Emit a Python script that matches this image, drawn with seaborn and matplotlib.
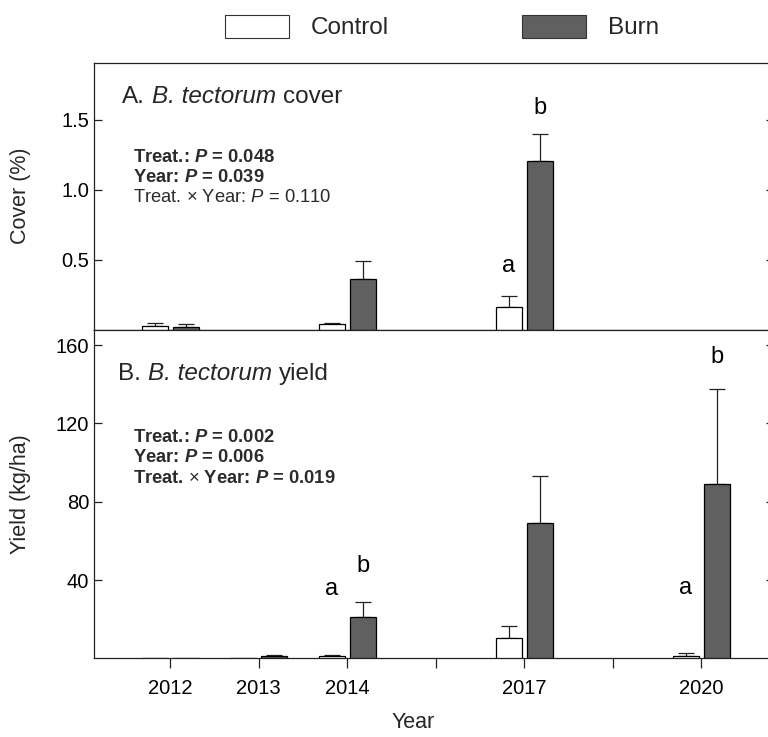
import numpy as np
import pandas as pd
import matplotlib
matplotlib.use("Agg")
import matplotlib.pyplot as plt
import seaborn as sns
from matplotlib.patches import Patch

# ---------------- data ----------------
tick_labels = ['2012', '2013', '2014', '', '2017', '', '2020']
years = ['2012', '2013', '2014', '2017', '2020']
treatments = ['Control', 'Burn']

cover_control = [0.026, np.nan, 0.036, 0.162, np.nan]
cover_control_se = [0.022, np.nan, 0.012, 0.076, np.nan]
cover_burn = [0.021, np.nan, 0.364, 1.202, np.nan]
cover_burn_se = [0.015, np.nan, 0.129, 0.198, np.nan]

yield_control = [0.3, 0.3, 1.2, 10.5, 1.2]
yield_control_se = [0.0, 0.0, 0.6, 6.0, 1.3]
yield_burn = [0.3, 1.0, 21.1, 69.1, 89.0]
yield_burn_se = [0.0, 0.8, 7.7, 24.0, 48.5]

cover_letters_control = ['', '', '', 'a', '']
cover_letters_burn = ['', '', '', 'b', '']
yield_letters_control = ['', '', 'a', '', 'a']
yield_letters_burn = ['', '', 'b', '', 'b']
# letter heights (annotation placement, data units)
cover_letter_y_control = [0, 0, 0, 0.457, 0]
cover_letter_y_burn = [0, 0, 0, 1.586, 0]
yield_letter_y_control = [0, 0, 35.4, 0, 35.9]
yield_letter_y_burn = [0, 0, 47.1, 0, 153.9]

cover_title = [('A.', 'normal'), ('B. tectorum', 'italic'), ('cover', 'normal')]
yield_title = [('B.', 'normal'), ('B. tectorum', 'italic'), ('yield', 'normal')]

cover_stats = [r"Treat.: $\mathbfit{P}$ = 0.048", r"Year: $\mathbfit{P}$ = 0.039",
               r"Treat. $\times$ Year: $\mathit{P}$ = 0.110"]
cover_stats_bold = [True, True, False]
yield_stats = [r"Treat.: $\mathbfit{P}$ = 0.002", r"Year: $\mathbfit{P}$ = 0.006",
               r"Treat. $\times$ Year: $\mathbfit{P}$ = 0.019"]
yield_stats_bold = [True, True, True]

# ---------------- style ----------------
sns.set_style("ticks")
plt.rcParams['font.family'] = ['Liberation Sans', 'DejaVu Sans']
plt.rcParams['mathtext.fontset'] = 'custom'
plt.rcParams['mathtext.rm'] = 'Liberation Sans'
plt.rcParams['mathtext.it'] = 'Liberation Sans:italic'
plt.rcParams['mathtext.bf'] = 'Liberation Sans:bold'
try:
    plt.rcParams['mathtext.bfit'] = 'Liberation Sans:italic:bold'
except KeyError:
    pass

palette = {'Control': 'white', 'Burn': '#606060'}
order = [lbl if lbl else f'gap{i}' for i, lbl in enumerate(tick_labels)]
WIDTH = 0.7
off = WIDTH / 4

fig = plt.figure(figsize=(7.68, 7.37), dpi=100)
L, R = 94 / 768, 774 / 768
ax1 = fig.add_axes([L, 1 - 329.5 / 737, R - L, (329.5 - 63) / 737])
ax2 = fig.add_axes([L, 1 - 658.3 / 737, R - L, (658.3 - 329.5) / 737])


def panel(ax, ctrl, ctrl_se, burn, burn_se, let_c, let_b, ly_c, ly_b):
    df = pd.DataFrame({
        'year': years * 2,
        'trt': ['Control'] * len(years) + ['Burn'] * len(years),
        'value': list(ctrl) + list(burn),
    }).dropna()
    sns.barplot(data=df, x='year', y='value', hue='trt', order=order,
                hue_order=treatments, palette=palette, width=WIDTH, gap=0.16,
                edgecolor='black', linewidth=0.9, errorbar=None, legend=False,
                ax=ax, zorder=3)
    pos = np.array([order.index(y) for y in years], dtype=float)
    for vals, ses, sgn in ((ctrl, ctrl_se, -1), (burn, burn_se, 1)):
        v = np.array(vals, dtype=float)
        s = np.array(ses, dtype=float)
        m = ~np.isnan(v) & (np.nan_to_num(s) > 0)
        ax.errorbar(pos[m] + sgn * off, v[m], yerr=[np.zeros(m.sum()), s[m]],
                    fmt='none', ecolor='#222222', elinewidth=0.9, capsize=6,
                    capthick=0.9, zorder=2)
    for letters, ly, sgn in ((let_c, ly_c, -1), (let_b, ly_b, 1)):
        for p, t, y in zip(pos, letters, ly):
            if t:
                ax.text(p + sgn * off, y, t, ha='center', va='center',
                        fontsize=17, color='black')
    ax.set_xlim(-0.86, 6.82)
    ax.set_xlabel('')
    for sp in ax.spines.values():
        sp.set_visible(True)
        sp.set_color('#222222')
        sp.set_linewidth(0.9)
    ax.tick_params(axis='y', which='both', direction='in', length=6, width=0.9,
                   left=True, right=True, labelsize=14.5, colors='#222222',
                   labelcolor='black')


panel(ax1, cover_control, cover_control_se, cover_burn, cover_burn_se,
      cover_letters_control, cover_letters_burn,
      cover_letter_y_control, cover_letter_y_burn)
panel(ax2, yield_control, yield_control_se, yield_burn, yield_burn_se,
      yield_letters_control, yield_letters_burn,
      yield_letter_y_control, yield_letter_y_burn)

ax1.set_ylim(0, 1.905)
ax1.set_yticks([0.5, 1.0, 1.5])
ax1.set_yticklabels(['0.5', '1.0', '1.5'])
ax1.tick_params(axis='x', bottom=False, labelbottom=False)
ax1.set_ylabel('Cover (%)', fontsize=15.5)
ax1.yaxis.set_label_coords(-0.093, 0.5)

ax2.set_ylim(0, 168)
ax2.set_yticks([40, 80, 120, 160])
ax2.set_xticks(range(len(tick_labels)))
ax2.set_xticklabels(tick_labels)
ax2.tick_params(axis='x', direction='out', length=7, width=0.9, labelsize=14.5,
                pad=8, colors='#222222', labelcolor='black')
ax2.set_ylabel('Yield (kg/ha)', fontsize=15.5)
ax2.yaxis.set_label_coords(-0.093, 0.5)

fig.text(413 / 768, 1 - 722 / 737, 'Year', ha='center', va='center', fontsize=15.5)


def chain(x, y, parts, size):
    """Write text pieces with mixed styles one after another on one line."""
    gap_pt = 0.278 * size
    prev = fig.text(x, y, parts[0][0], ha='left', va='center', fontsize=size,
                    fontstyle=parts[0][1])
    for txt, style in parts[1:]:
        prev = fig.add_artist(matplotlib.text.Annotation(
            txt, xy=(1, 0), xycoords=prev, xytext=(gap_pt, 0),
            textcoords='offset points', ha='left', va='bottom',
            fontsize=size, fontstyle=style, annotation_clip=False))


chain(122 / 768, 1 - 97 / 737, cover_title, 17.5)
chain(118 / 768, 1 - 374 / 737, yield_title, 17.5)

# statistics
for i, (t, b) in enumerate(zip(cover_stats, cover_stats_bold)):
    fig.text(133 / 768, 1 - (158 + 20 * i) / 737, t, ha='left', va='center',
             fontsize=13.2, color='#2b2b2b', fontweight='bold' if b else 'normal')
for i, (t, b) in enumerate(zip(yield_stats, yield_stats_bold)):
    fig.text(133 / 768, 1 - (437 + 20.5 * i) / 737, t, ha='left', va='center',
             fontsize=13.2, color='#2b2b2b', fontweight='bold' if b else 'normal')

handles = [Patch(facecolor=palette[t], edgecolor='#333333', linewidth=0.8, label=t)
           for t in treatments]
fig.legend(handles=handles, loc='center', bbox_to_anchor=(442 / 768, 1 - 27 / 737),
           ncol=2, frameon=False, fontsize=17.5, handlelength=2.66, handleheight=1.1,
           handletextpad=0.9, columnspacing=5.45)

fig.savefig('out.png', dpi=100)
